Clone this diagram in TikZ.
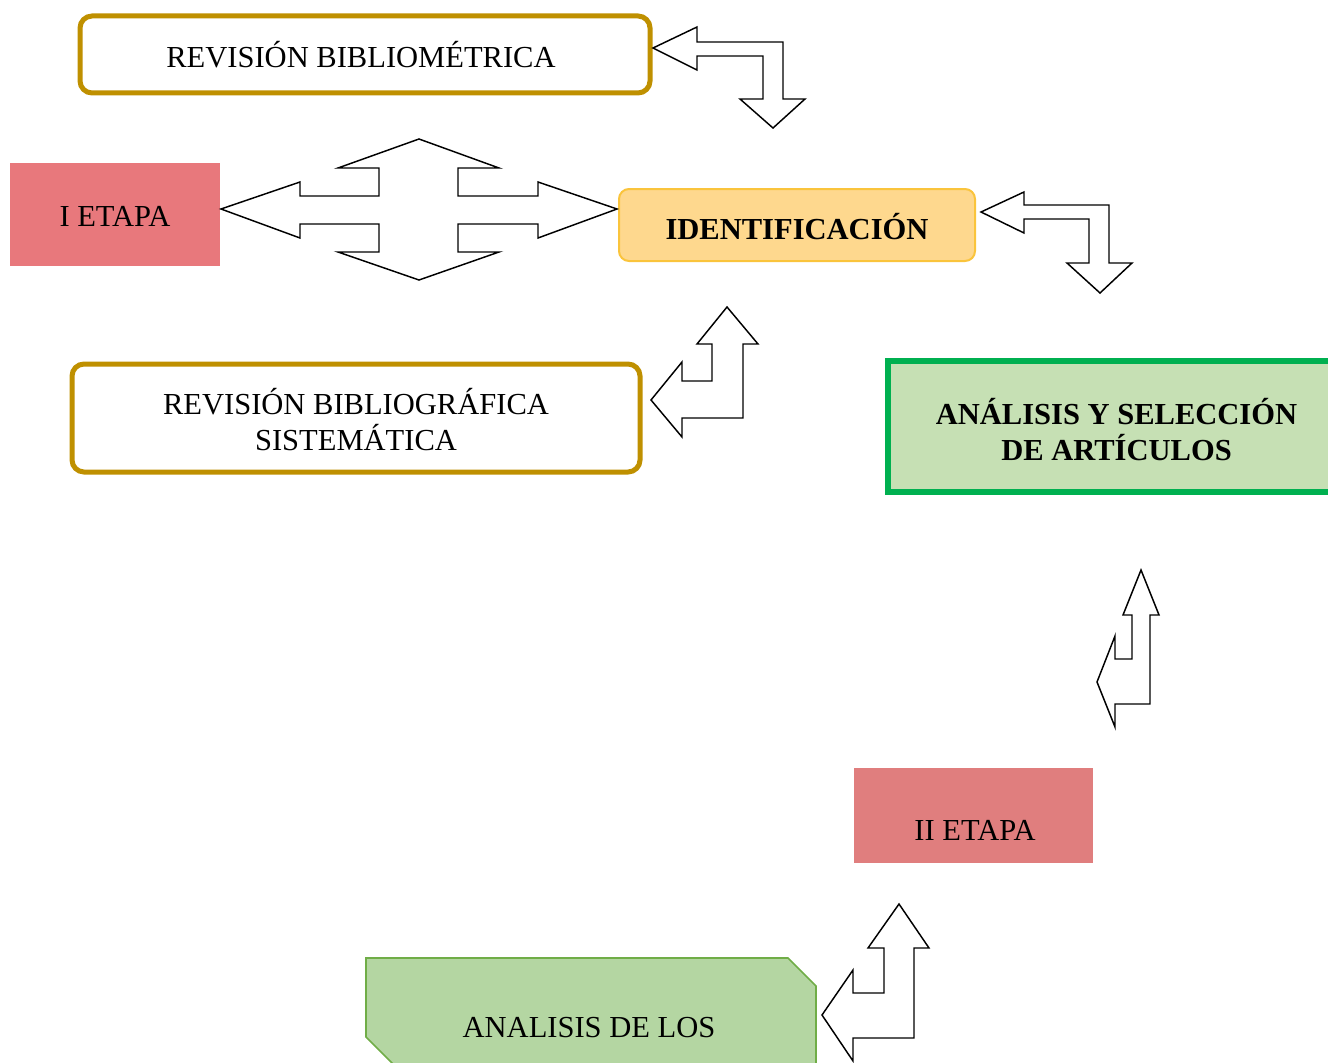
\documentclass[tikz,border=0pt]{standalone}
\usepackage{fontspec}
\setmainfont{Liberation Serif}
\definecolor{goldc}{RGB}{191,144,0}
\definecolor{etapaA}{RGB}{232,120,124}
\definecolor{etapaB}{RGB}{224,126,126}
\definecolor{identfill}{RGB}{254,216,142}
\definecolor{identdraw}{RGB}{250,196,60}
\definecolor{selfill}{RGB}{198,224,180}
\definecolor{seldraw}{RGB}{0,176,80}
\definecolor{anafill}{RGB}{180,214,162}
\definecolor{anadraw}{RGB}{112,173,71}
\newcommand{\lowerby}[2]{\raisebox{-#1}[\height][\depth]{#2}}
\begin{document}
\begin{tikzpicture}[x=0.75pt,y=-0.75pt,
  txt/.style={font=\fontsize{22.9}{27}\selectfont, align=center, text=black},
  goldbox/.style={txt, draw=goldc, line width=3.75pt, rounded corners=9pt, fill=white, inner sep=0pt},
  etapabox/.style={txt, inner sep=0pt},
  blockarrow/.style={draw=black, fill=white, line width=1.1pt, line join=miter}]
\useasboundingbox (0,0) rectangle (1328,1063);
\clip (0,0) rectangle (1328,1063);

% boxes
\node[goldbox, minimum width=427.5pt, minimum height=57.75pt] (rbm) at (365,54.5) {\hspace*{-6pt}REVISIÓN BIBLIOMÉTRICA};
\node[etapabox, fill=etapaA, minimum width=157.5pt, minimum height=77.25pt] (e1) at (115,214.5) {\lowerby{1.5pt}{I ETAPA}};
\node[txt, font=\fontsize{22.9}{27}\selectfont\bfseries, fill=identfill, draw=identdraw, line width=1.5pt, rounded corners=7.5pt, inner sep=0pt, minimum width=267pt, minimum height=54pt] (ident) at (797,225) {\lowerby{1.5pt}{IDENTIFICACIÓN}};
\node[goldbox, minimum width=426pt, minimum height=81pt] (rbs) at (356,418) {\lowerby{5.25pt}{\begin{tabular}{@{}c@{}}REVISIÓN BIBLIOGRÁFICA\\[-1pt]SISTEMÁTICA\end{tabular}}};
\node[txt, font=\fontsize{22.9}{27}\selectfont\bfseries, fill=selfill, draw=seldraw, line width=4.5pt, inner sep=0pt, minimum width=342.75pt, minimum height=98.25pt] (sel) at (1116.5,426.5) {\lowerby{6pt}{\begin{tabular}{@{}c@{}}ANÁLISIS Y SELECCIÓN\\[-1pt]DE ARTÍCULOS\end{tabular}}};
\node[etapabox, fill=etapaB, minimum width=179.25pt, minimum height=71.25pt] (e2) at (973.5,815.5) {};
\node[txt] (e2t) at (975,830) {II ETAPA};

% green cut shape
\draw[fill=anafill, draw=anadraw, line width=1.2pt] (366,958) -- (788,958) -- (816,986) -- (816,1075) -- (404,1075) -- (366,1037) -- cycle;
\node[txt] (adl) at (589,1028) {ANALISIS DE LOS};

% block arrows
\draw[blockarrow] (653,48) -- (697,27) -- (697,42) -- (783,42) -- (783,99) -- (805,99) -- (773,128) -- (740,99) -- (763,99) -- (763,56) -- (697,56) -- (697,70) -- cycle;
\draw[blockarrow] (221,209) -- (300,182) -- (300,196) -- (379,196) -- (379,168) -- (338,168) -- (419,139) -- (499,168) -- (458,168) -- (458,196) -- (538,196) -- (538,182) -- (617,209) -- (538,238) -- (538,224) -- (458,224) -- (458,252) -- (499,252) -- (419,280) -- (338,252) -- (379,252) -- (379,224) -- (300,224) -- (300,238) -- cycle;
\draw[blockarrow] (981,212) -- (1024,192) -- (1024,205) -- (1109,205) -- (1109,263) -- (1132,263) -- (1100,293) -- (1067,263) -- (1089,263) -- (1089,219) -- (1024,219) -- (1024,233) -- cycle;
\draw[blockarrow] (651,400) -- (682,362) -- (682,381) -- (712,381) -- (712,344) -- (697,344) -- (727,307) -- (758,344) -- (743,344) -- (743,418) -- (682,418) -- (682,437) -- cycle;
\draw[blockarrow] (1097,682) -- (1115,636) -- (1115,659) -- (1132,659) -- (1132,615) -- (1123,615) -- (1141,570) -- (1159,615) -- (1150,615) -- (1150,704) -- (1115,704) -- (1115,727) -- cycle;
\draw[blockarrow] (822,1015) -- (853,970) -- (853,993) -- (884,993) -- (884,948) -- (868,948) -- (899,904) -- (929,948) -- (914,948) -- (914,1038) -- (853,1038) -- (853,1061) -- cycle;
\end{tikzpicture}
\end{document}
